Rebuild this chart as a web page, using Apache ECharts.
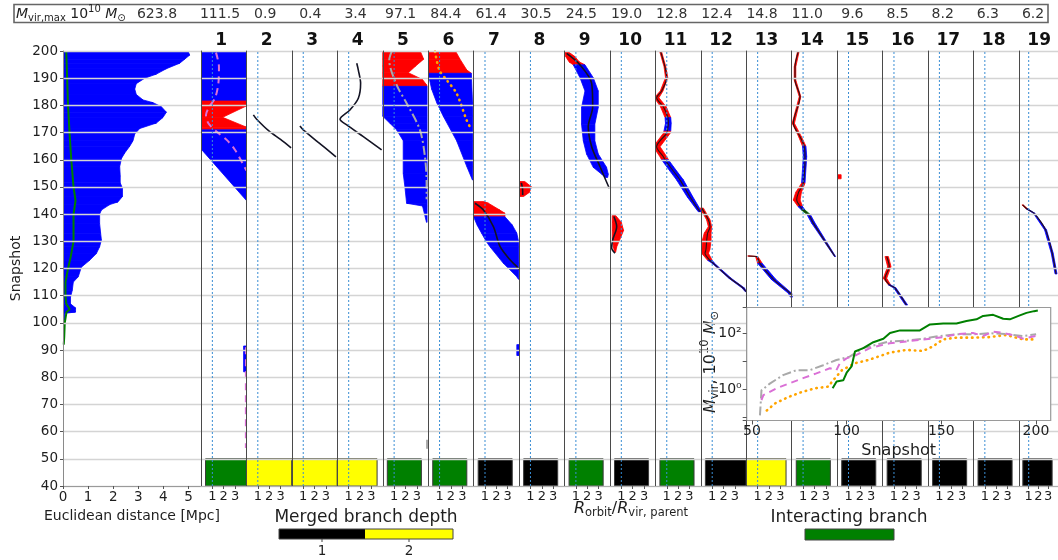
<!DOCTYPE html>
<html>
<head>
<meta charset="utf-8">
<script src="https://cdn.jsdelivr.net/npm/echarts@6/dist/echarts.min.js"></script>
<style>
  html, body { margin: 0; padding: 0; background: #fff; }
  #chart { width: 1058px; height: 560px; }
</style>
</head>
<body>
<div id="chart"></div>
<script>
// ---------------- data ----------------
const SNAP_MIN = 40, SNAP_MAX = 200, SNAP_STEP = 10;
const STATUS_TOP = 50;          // merge-status strip occupies snapshots 40-50
const rvirRatioMark = 1;        // R_orbit / R_vir,parent = 1 reference line

const panelLabels = ['1','2','3','4','5','6','7','8','9','10','11','12','13','14','15','16','17','18','19'];
const hostMvirMax = 623.8;
const branchMvirMax = [111.5, 0.9, 0.4, 3.4, 97.1, 84.4, 61.4, 30.5, 24.5, 19.0, 12.8, 12.4, 14.8, 11.0, 9.6, 8.5, 8.2, 6.3, 6.2];
// 1 = merged at depth 1, 2 = merged at depth 2, 3 = interacting branch
const branchState = [3, 2, 2, 2, 3, 3, 1, 1, 3, 1, 3, 1, 2, 3, 1, 1, 1, 1, 1];

// host: spread of particle distances [snapshot, Mpc] and median distance [Mpc, snapshot]
const hostSpread = [[200,4.98],[198.5,5.05],[197,4.85],[195.5,4.65],[193.5,4.12],[191.5,3.72],[190,3.26],[188,2.92],[186,2.86],[184,2.92],[182,3.19],[181,3.59],[179.5,3.92],[177.5,4.12],[175.5,3.98],[173.5,3.72],[171.5,3.06],[169.5,2.86],[167,2.79],[165,2.66],[162.5,2.46],[160.5,2.33],[157.5,2.26],[154,2.28],[151.5,2.28],[149.5,2.37],[146.5,2.37],[144.5,2.19],[143.5,1.86],[141.5,1.53],[140,1.46],[136.5,1.46],[133,1.5],[130.5,1.53],[128,1.46],[125.5,1.33],[123,1.06],[120.5,0.73],[117,0.61],[115,0.41],[112,0.37],[109.5,0.3],[107,0.3],[105.5,0.5],[104,0.5],[103.5,0.07],[101,0.07]];
const hostMedian = [[0.13,200],[0.2,180],[0.26,170],[0.33,160],[0.42,150],[0.5,145],[0.42,140],[0.42,130],[0.3,124],[0.2,120],[0.1,115],[0.1,110],[0.13,107],[0.27,105],[0.14,104],[0.07,100],[0.05,95],[0.03,92]];

// branch spreads: [snapshot, xLeft, xRight, flag]  (flag 1 = blue, 2 = red)
const b1Spread = [[200,0,4,1],[181.6,0,4,2],[179.8,0,4,2],[175.6,0,1.9,2],[172,0,4,2],[171,0,4,1],[164,0,4,1],[145,4,4,1]];
const b1SpreadLate = [[91.5,3.75,4,1],[82,3.75,4,1]];
const b5Spread = [[200,0,3.3,2],[197,0,3.6,2],[194.5,0,2.9,2],[192,0,2.25,2],[189.5,0,3.5,2],[187.5,0,3.86,2],[187,0,3.9,1],[176,0,3.9,1],[173.4,0.63,3.9,1],[171,1.22,3.9,1],[167,1.8,3.9,1],[155,1.8,3.9,1],[150,1.95,3.9,1],[144,2.1,3.9,1],[143,3.5,3.9,1],[137,3.85,3.9,1]];
const b6Spread = [[200,0,2.4,2],[197,0,2.8,2],[193,0,3.4,2],[191.8,0,3.8,1],[186,0.3,3.85,1],[181,0.75,3.9,1],[176,1.33,3.9,1],[167,2.5,3.9,1],[157.5,3.4,3.9,1],[152.5,3.9,3.9,1]];
const b7Spread = [[144.6,0,0.9,2],[144,0,1.3,2],[141.5,0,2.3,2],[140.3,0,2.76,2],[139,0,2.76,1],[136,0.3,3.4,1],[133,0.7,3.8,1],[130,1.1,3.95,1],[128,1.44,3.95,1],[122,2.6,3.95,1],[117,3.8,3.95,1],[116,3.95,3.95,1]];
const b7SpreadLate = [[92,3.8,4,1],[88,3.8,4,1]];
const b8Spread = [[152,0,0.5,2],[150,0,1.1,2],[148,0,0.9,2],[146.5,0,0.4,2]];
const b9Spread = [[199.8,0,0.3,2],[198,0.1,0.9,2],[196,0.4,1.3,2],[194.9,0.77,1.8,1],[190.2,1.36,2.53,1],[185.3,1.8,2.97,1],[179.2,1.5,2.97,1],[173.1,1.5,2.67,1],[167,1.65,2.67,1],[162.1,1.94,2.97,1],[157.2,2.53,3.7,1],[154.7,3.27,3.85,1],[153.5,3.6,3.8,1]];
const b10Spread = [[139.5,0.2,0.5,2],[137,0.2,1.0,2],[134,0.2,1.2,2],[131,0.2,0.9,2],[128,0.3,0.6,2],[126,0.4,0.5,2]];
const b15Spread = [[154.5,0,0.35,2],[153,0.05,0.35,2]];

// narrow branches: [snapshot, x, half-width, flag]  (flag 3 = green)
const b11Ribbon = [[199.8,0.46,0.08,2],[194.2,0.84,0.08,2],[190.2,0.99,0.1,2],[185.3,0.55,0.12,2],[182.8,0.11,0.2,2],[179.5,0.7,0.25,2],[175.5,1.1,0.25,1],[173.4,1.14,0.25,1],[170.5,1.05,0.3,2],[169.7,0.99,0.3,2],[164.8,0.11,0.3,2],[161.1,0.7,0.3,2],[160,0.85,0.3,1],[157.5,1.28,0.3,1],[152.6,2.16,0.3,1],[146.4,3.04,0.25,1],[140.9,3.92,0.15,1]];
const b12Ribbon = [[142.2,0.08,0.15,2],[137.9,0.66,0.15,2],[135.4,0.81,0.15,2],[133,0.6,0.3,2],[130.5,0.52,0.38,2],[127,0.45,0.35,2],[125.6,0.37,0.3,2],[123,0.8,0.2,1],[121.9,1.1,0.1,1],[116.4,2.57,0.1,1],[112.8,3.74,0.1,1],[111.5,3.95,0.05,1]];
const b13Ribbon = [[124.6,0.18,0.06,2],[124.4,0.92,0.1,2],[121.9,1.2,0.2,1],[116,2.4,0.2,1],[110.9,3.85,0.15,1],[109.5,3.98,0.1,1]];
const b14Ribbon = [[199.8,0.58,0.07,2],[194.2,0.29,0.07,2],[189.3,0.29,0.07,2],[183.2,0.73,0.07,2],[173.4,0.14,0.1,2],[168.5,0.73,0.12,2],[165,1.1,0.15,1],[161.2,1.17,0.15,1],[151.4,1.02,0.15,2],[148,0.6,0.25,2],[145.2,0.44,0.3,2],[142.8,0.75,0.2,1],[141.5,1.02,0.15,3],[139.8,1.5,0.15,1],[136.7,1.9,0.15,1],[124.4,3.81,0.05,1]];
const b16Ribbon = [[124.4,0.36,0.15,2],[120.7,0.59,0.15,2],[116.4,0.21,0.15,2],[114,0.6,0.1,1],[112.8,1.09,0.1,1],[106.6,2.1,0.1,1]];
const b19Ribbon = [[143.4,0.38,0.07,2],[142,0.8,0.08,1],[140.3,1.56,0.08,1],[134.2,2.73,0.1,1],[125.6,3.41,0.1,1],[118,3.8,0.1,1]];

// orbit tracks: [R_orbit/R_vir, snapshot]
const b1Track = [[1.32,199.4],[1.58,194.2],[1.53,188.1],[1.23,182.6],[0.73,179.5],[0.44,176.5],[0.65,173.4],[1.38,170.3],[2.26,167.3],[3.0,163.6],[3.73,158.1],[4,156]];
const b1TrackLate = [[3.95,91],[3.95,54]];
const b2Track = [[0.61,176.5],[0.9,174.9],[2.0,170.5],[3.0,167.5],[3.93,164.4]];
const b3Track = [[0.71,172.4],[1.0,171],[2.3,166.5],[3.88,161.1]];
const b4Track = [[1.71,195.5],[1.85,193],[2.05,188.1],[1.85,182.6],[1.11,178.3],[0.24,174.9],[0.83,172.8],[2.29,168.5],[3.9,163.6]];
const b5Track = [[0.78,199.8],[0.57,196.7],[1.22,187.5],[2.1,180.8],[3.27,171],[3.71,161.2],[3.86,151.4],[3.86,145.5]];
const b5TrackLate = [[3.9,57],[3.9,53]];
const b6Track = [[0.6,199.8],[0.98,193],[1.63,189.3],[2.5,184.4],[3.38,174.6],[3.82,171]];
const b7Track = [[0.12,144],[0.86,141.5],[1.74,135.4],[2.32,128.1],[3.2,123.2],[3.8,120.7],[4,119.5]];
const b8Track = [[0.2,151.5],[0.3,149.5],[0.32,147]];
const b9Track = [[0.19,199.1],[1.36,194.9],[2.39,188.1],[2.48,179.5],[2.09,172.2],[2.39,164.8],[3.12,157.5],[3.94,149.5]];
const b10Track = [[0.35,139.1],[0.59,135.4],[0.24,130.5],[0.15,127.5],[0.44,125.6]];

// mass histories for the inset: [snapshot, M_vir / 1e10 Msun]
const hostMass = [[92.6,1.1],[94.7,1.9],[98.2,2.1],[100,3.9],[102.6,6.5],[104.4,22],[108.8,29],[114.1,47],[119.4,62],[122.9,100],[128.2,123],[138.7,123],[144,200],[151,214],[158,214],[163.3,263],[168.6,302],[172.1,398],[177.4,437],[182.7,316],[186.2,302],[191.5,417],[195,513],[199,590],[201,623.8]];
const b1Mass = [[55,0.42],[56,0.63],[63,1.1],[70,1.66],[77,2.5],[84,3.7],[91.1,5.6],[94.6,4.8],[96.4,8.5],[99.9,12.6],[105.2,16.6],[112.2,29],[122.7,43],[131.5,50],[140.3,58],[150.9,71],[157.9,89],[166.7,100],[172,78],[177.4,111.5],[182.6,100],[189.7,78],[193.1,63],[200.1,78]];
const b5Mass = [[54.2,0.12],[55,0.93],[59.4,1.6],[66.4,3.2],[73.5,4.8],[80.5,4.8],[87.6,7.2],[94.6,11],[101.6,14.5],[108.6,29],[115.7,38],[122.7,50],[131.5,53],[140.3,62],[149.1,78],[157.9,89],[166.7,89],[175.5,97.1],[184.3,91],[193.1,78],[200.1,89]];
const b6Mass = [[57.8,0.18],[62.2,0.32],[69.3,0.54],[76.3,0.81],[83.4,1.1],[90.4,1.26],[92.2,1.86],[97.5,4.8],[104.5,8.5],[111.5,11],[122.7,20],[131.5,25],[140.3,23],[145.5,33],[150.9,59],[158,68],[166.7,68],[175.5,71],[184.3,84.4],[193.1,59],[200.1,59]];

// ---------------- layout & style ----------------
const FONT = '"DejaVu Sans", "Liberation Sans", sans-serif';
const TXT = '#1e1e1e';
const FILL = {1: '#0000ff', 2: '#ff0000', 3: '#008000'};
const STATE_COLOR = {1: '#000000', 2: '#ffff00', 3: '#008000'};
const PLOT_TOP = 51, PLOT_H = 435;
const HOST_LEFT = 63, PANEL_LEFT = 201, PANEL_W = 45.44;
const INSET = {left: 746.7, top: 307.5, width: 304, height: 113};

const grids = [], xAxes = [], yAxes = [], series = [];

function snapAxis(gi, isHost) {
  return {
    gridIndex: gi, type: 'value', min: SNAP_MIN, max: SNAP_MAX, interval: SNAP_STEP, z: 5,
    axisLine: {show: true, lineStyle: {color: isHost ? '#8a8a8a' : '#4a4a4a', width: 1}},
    axisTick: {show: isHost, length: 3, lineStyle: {color: '#555'}},
    axisLabel: {show: isHost, fontFamily: FONT, fontSize: 13.5, color: TXT, margin: 5},
    splitLine: {show: true, lineStyle: {color: '#d4d4d4', width: 1.4}},
    name: isHost ? 'Snapshot' : '', nameLocation: 'middle', nameGap: 40, nameRotate: 90,
    nameTextStyle: {fontFamily: FONT, fontSize: 14, color: TXT}
  };
}

function stripSeries(gi, rows, mode) {
  return {
    type: 'custom', xAxisIndex: gi, yAxisIndex: gi, z: 2, clip: true,
    data: rows, encode: {x: 1, y: 0}, silent: true,
    renderItem(params, api) {
      const i = params.dataIndex;
      if (i >= rows.length - 1) return null;
      const a = rows[i], b = rows[i + 1];
      const edge = r => mode === 'ribbon' ? [r[1] - r[2], r[1] + r[2]] : [r[1], r[2]];
      const [al, ar] = edge(a), [bl, br] = edge(b);
      const c = FILL[a[3]];
      return {
        type: 'polygon',
        shape: {points: [api.coord([al, a[0]]), api.coord([ar, a[0]]), api.coord([br, b[0]]), api.coord([bl, b[0]])]},
        style: {fill: c, stroke: c, lineWidth: 0.8}
      };
    }
  };
}

function trackSeries(gi, pts, lineStyle, smooth) {
  return {
    type: 'line', xAxisIndex: gi, yAxisIndex: gi, data: pts, showSymbol: false, z: 3,
    smooth: smooth === undefined ? 0.3 : smooth, silent: true, lineStyle
  };
}

const BLACK_TRACK = {color: '#141424', width: 1.6};
const VIOLET = {color: '#da70d6', width: 2, type: [7, 5]};
const GREYDD = {color: '#a9a9a9', width: 2, type: [9, 3, 2, 3]};
const ORANGE = {color: '#ffa500', width: 2.6, type: [0.5, 5], cap: 'round'};

// host panel (grid 0)
grids.push({left: HOST_LEFT, top: PLOT_TOP, width: PANEL_LEFT - HOST_LEFT, height: PLOT_H});
xAxes.push({
  gridIndex: 0, type: 'value', min: 0, max: 5.5, z: 5,
  axisLine: {show: true, lineStyle: {color: '#9a9a9a'}},
  axisTick: {show: true, length: 3, customValues: [0, 1, 2, 3, 4, 5], lineStyle: {color: '#555'}},
  axisLabel: {fontFamily: FONT, fontSize: 13.5, color: TXT, margin: 4, customValues: [0, 1, 2, 3, 4, 5]},
  splitLine: {show: false},
  name: 'Euclidean distance [Mpc]', nameLocation: 'middle', nameGap: 16,
  nameTextStyle: {fontFamily: FONT, fontSize: 14, color: TXT}
});
yAxes.push(snapAxis(0, true));
series.push(stripSeries(0, hostSpread.map(([s, d]) => [s, 0, d, 1]), 'band'));
series.push(trackSeries(0, hostMedian, {color: '#008000', width: 2}, false));

// satellite panels (grids 1..19)
for (let k = 0; k < panelLabels.length; k++) {
  const gi = k + 1;
  grids.push({left: PANEL_LEFT + k * PANEL_W, top: PLOT_TOP, width: PANEL_W, height: PLOT_H});
  xAxes.push({
    gridIndex: gi, type: 'value', min: 0, max: 4, z: 5,
    axisLine: {show: true, lineStyle: {color: '#b0b0b0'}},
    axisTick: {show: true, length: 3, customValues: [1, 2, 3], lineStyle: {color: '#555'}},
    axisLabel: {fontFamily: FONT, fontSize: 13, color: TXT, margin: 4, customValues: [1, 2, 3]},
    splitLine: {show: false}
  });
  yAxes.push(snapAxis(gi, false));
  // R_orbit = R_vir,parent guide
  series.push({
    type: 'line', xAxisIndex: gi, yAxisIndex: gi, z: 6, showSymbol: false, silent: true,
    data: [[rvirRatioMark, SNAP_MIN], [rvirRatioMark, SNAP_MAX]],
    lineStyle: {color: '#3b8ed4', width: 1, type: [2, 2]}
  });
  // merge / interaction status strip
  series.push({
    type: 'custom', xAxisIndex: gi, yAxisIndex: gi, z: 3, silent: true, data: [[k]],
    renderItem(params, api) {
      const st = branchState[k], nx = branchState[k + 1];
      const x0 = st === 2 ? 0 : 0.4;
      const x1 = nx === 2 ? 4 : (st === 2 ? 3.5 : 3.4);
      const p0 = api.coord([x0, STATUS_TOP]), p1 = api.coord([x1, SNAP_MIN]);
      return {type: 'rect', shape: {x: p0[0], y: p0[1], width: p1[0] - p0[0], height: p1[1] - p0[1]},
              style: {fill: STATE_COLOR[st], stroke: '#3a3a3a', lineWidth: 1}};
    }
  });
}

// per-branch content
series.push(stripSeries(1, b1Spread, 'band'), stripSeries(1, b1SpreadLate, 'band'));
series.push(trackSeries(1, b1Track, VIOLET), trackSeries(1, b1TrackLate, VIOLET, false));
series.push(trackSeries(2, b2Track, BLACK_TRACK));
series.push(trackSeries(3, b3Track, BLACK_TRACK));
series.push(trackSeries(4, b4Track, BLACK_TRACK));
series.push(stripSeries(5, b5Spread, 'band'));
series.push(trackSeries(5, b5Track, GREYDD), trackSeries(5, b5TrackLate, GREYDD, false));
series.push(stripSeries(6, b6Spread, 'band'));
series.push(trackSeries(6, b6Track, ORANGE));
series.push(stripSeries(7, b7Spread, 'band'), stripSeries(7, b7SpreadLate, 'band'));
series.push(trackSeries(7, b7Track, BLACK_TRACK));
series.push(stripSeries(8, b8Spread, 'band'), trackSeries(8, b8Track, BLACK_TRACK));
series.push(stripSeries(9, b9Spread, 'band'), trackSeries(9, b9Track, BLACK_TRACK));
series.push(stripSeries(10, b10Spread, 'band'), trackSeries(10, b10Track, BLACK_TRACK));
const ribbonPanels = [[11, b11Ribbon], [12, b12Ribbon], [13, b13Ribbon], [14, b14Ribbon], [16, b16Ribbon], [19, b19Ribbon]];
ribbonPanels.forEach(([gi, rows]) => {
  series.push(stripSeries(gi, rows, 'ribbon'));
  series.push(trackSeries(gi, rows.map(r => [r[1], r[0]]), {color: '#2a1414', width: 1.1}));
});
series.push(stripSeries(15, b15Spread, 'band'));

// inset: mass histories (grid 20)
const IG = 20;
grids.push({left: INSET.left, top: INSET.top, width: INSET.width, height: INSET.height,
            show: true, backgroundColor: '#ffffff', borderColor: '#9a9a9a', borderWidth: 1.2, z: 10});
xAxes.push({
  gridIndex: IG, type: 'value', min: 47.2, max: 207.8, z: 11,
  axisLine: {show: false},
  axisTick: {show: true, length: 4, customValues: [50, 100, 150, 200], lineStyle: {color: '#555'}},
  axisLabel: {fontFamily: FONT, fontSize: 14, color: TXT, margin: 4, customValues: [50, 100, 150, 200]},
  splitLine: {show: false},
  name: 'Snapshot', nameLocation: 'middle', nameGap: 22,
  nameTextStyle: {fontFamily: FONT, fontSize: 16, color: TXT}
});
yAxes.push({
  gridIndex: IG, type: 'log', logBase: 10, min: 0.0794, max: 794, z: 11,
  axisLine: {show: false},
  axisTick: {show: true, length: 4, lineStyle: {color: '#555'}},
  axisLabel: {fontFamily: FONT, fontSize: 14, color: TXT, margin: 5,
    formatter: v => Math.abs(v - 1) < 1e-6 ? '10⁰' : (Math.abs(v - 100) < 1e-4 ? '10²' : '')},
  splitLine: {show: false}
});
const insetLine = (data, lineStyle) => ({
  type: 'line', xAxisIndex: IG, yAxisIndex: IG, data, showSymbol: false, z: 12, silent: true, lineStyle
});
series.push(insetLine(b6Mass, ORANGE));
series.push(insetLine(b5Mass, GREYDD));
series.push(insetLine(b1Mass, VIOLET));
series.push(insetLine(hostMass, {color: '#008000', width: 2}));

// ---------------- text ----------------
const measureCtx = document.createElement('canvas').getContext('2d');
function textW(t, size, italic, bold) {
  measureCtx.font = `${italic ? 'italic ' : ''}${bold ? 'bold ' : ''}${size}px ${FONT}`;
  return measureCtx.measureText(t).width;
}
// lays out a run of [text, size, baselineShift, italic] pieces, left edge at x
function mathRun(pieces, x, y) {
  let cx = x;
  return pieces.map(([t, size, dy, it]) => {
    const el = {type: 'text', x: cx, y: y + dy,
      style: {text: t, font: `${it ? 'italic ' : ''}${size}px ${FONT}`, fill: TXT, align: 'left', verticalAlign: 'middle'}};
    cx += textW(t, size, it);
    return el;
  });
}
const runWidth = pieces => pieces.reduce((s, [t, size, , it]) => s + textW(t, size, it), 0);

const graphics = [];
// header table
graphics.push({type: 'rect', shape: {x: 14, y: 4.5, width: 1034, height: 18}, style: {fill: '#fff', stroke: '#666', lineWidth: 1.6}, z: 100});
mathRun([['M', 14, 0, true], ['vir,max', 10, 4], [' 10', 14, 0], ['10', 10, -5], [' ', 14, 0], ['M', 14, 0, true], ['⊙', 10, 4]], 16, 14)
  .forEach(e => graphics.push(Object.assign(e, {z: 101})));
graphics.push({type: 'text', x: 157, y: 14, z: 101, style: {text: hostMvirMax.toFixed(1), font: `14px ${FONT}`, fill: '#333', align: 'center', verticalAlign: 'middle'}});
branchMvirMax.forEach((v, k) => {
  graphics.push({type: 'text', x: 220 + k * 45.17, y: 14, z: 101,
    style: {text: v.toFixed(1), font: `14px ${FONT}`, fill: '#333', align: 'center', verticalAlign: 'middle'}});
});
// panel numbers
panelLabels.forEach((lab, k) => {
  graphics.push({type: 'text', x: PANEL_LEFT + k * PANEL_W + PANEL_W / 2 - 2.5, y: 41, z: 101,
    style: {text: lab, font: `bold 17px ${FONT}`, fill: '#111', align: 'center', verticalAlign: 'middle'}});
});
// R_orbit / R_vir,parent axis title
const rPieces = [['R', 16, 0, true], ['orbit', 11.5, 4], ['/', 16, 0], ['R', 16, 0, true], ['vir, parent', 11.5, 4]];
mathRun(rPieces, 631 - runWidth(rPieces) / 2, 509).forEach(e => graphics.push(e));
// inset y title (rotated)
const mPieces = [['M', 16, 0, true], ['vir', 11.5, 4], [', 10', 16, 0], ['10', 11.5, -6], [' ', 16, 0], ['M', 16, 0, true], ['⊙', 11.5, 4]];
graphics.push({type: 'group', x: 711, y: 362, rotation: Math.PI / 2, z: 120,
  children: mathRun(mPieces, -runWidth(mPieces) / 2, 0)});
// legends
graphics.push({type: 'text', x: 366, y: 518, style: {text: 'Merged branch depth', font: `17px ${FONT}`, fill: TXT, align: 'center', verticalAlign: 'middle'}});
graphics.push({type: 'rect', shape: {x: 279, y: 529, width: 86, height: 10}, style: {fill: STATE_COLOR[1]}});
graphics.push({type: 'rect', shape: {x: 365, y: 529, width: 88, height: 10}, style: {fill: STATE_COLOR[2]}});
graphics.push({type: 'rect', shape: {x: 279, y: 529, width: 174, height: 10}, style: {fill: 'none', stroke: '#444', lineWidth: 1}});
[[322, '1'], [409, '2']].forEach(([x, t]) => {
  graphics.push({type: 'line', shape: {x1: x, y1: 539, x2: x, y2: 542}, style: {stroke: '#444', lineWidth: 1}});
  graphics.push({type: 'text', x, y: 551, style: {text: t, font: `13.5px ${FONT}`, fill: TXT, align: 'center', verticalAlign: 'middle'}});
});
graphics.push({type: 'text', x: 849, y: 518, style: {text: 'Interacting branch', font: `17px ${FONT}`, fill: TXT, align: 'center', verticalAlign: 'middle'}});
graphics.push({type: 'rect', shape: {x: 805, y: 529, width: 89, height: 11}, style: {fill: STATE_COLOR[3], stroke: '#444', lineWidth: 1}});

const chart = echarts.init(document.getElementById('chart'), null, {renderer: 'canvas'});
chart.setOption({
  animation: false,
  backgroundColor: '#ffffff',
  textStyle: {fontFamily: FONT},
  grid: grids, xAxis: xAxes, yAxis: yAxes, series,
  graphic: {elements: graphics}
});
</script>
</body>
</html>
